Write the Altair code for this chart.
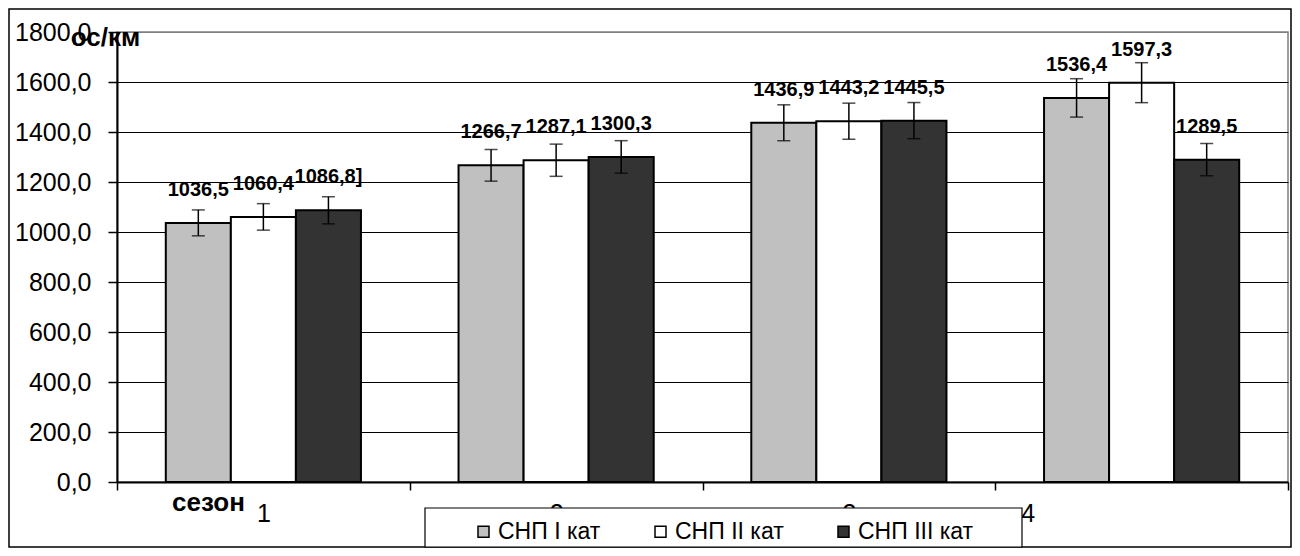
import altair as alt
import pandas as pd

seasons = ["1", "2", "3", "4"]
categories = ["СНП I кат", "СНП II кат", "СНП III кат"]
colors = ["#C0C0C0", "#FFFFFF", "#333333"]

values_I = [1036.5, 1266.7, 1436.9, 1536.4]
values_II = [1060.4, 1287.1, 1443.2, 1597.3]
values_III = [1086.8, 1300.3, 1445.5, 1289.5]

errors_I = [51.8, 63.3, 71.8, 76.8]
errors_II = [53.0, 64.4, 72.2, 79.9]
errors_III = [54.3, 65.0, 72.3, 64.5]

labels_I = ["1036,5", "1266,7", "1436,9", "1536,4"]
labels_II = ["1060,4", "1287,1", "1443,2", "1597,3"]
labels_III = ["1086,8]", "1300,3", "1445,5", "1289,5"]

y_ticks = [0, 200, 400, 600, 800, 1000, 1200, 1400, 1600, 1800]

rows = []
for cat, vals, errs, labs in zip(categories,
                                 [values_I, values_II, values_III],
                                 [errors_I, errors_II, errors_III],
                                 [labels_I, labels_II, labels_III]):
    for s, v, e, l in zip(seasons, vals, errs, labs):
        rows.append({"season": s, "cat": cat, "val": v,
                     "lo": v - e, "hi": v + e, "label": l})
df = pd.DataFrame(rows)

FONT = "Liberation Sans"

x_enc = alt.X(
    "season:N", sort=seasons,
    scale=alt.Scale(paddingInner=0, paddingOuter=0),
    axis=alt.Axis(
        title="сезон", titleX=91, titleY=28, titleAlign="center",
        titleBaseline="alphabetic", titleFont=FONT, titleFontSize=26,
        titleFontWeight="bold", titleColor="black",
        labelAngle=0, labelFont=FONT, labelFontSize=25, labelColor="black",
        labelPadding=11, tickSize=8, tickColor="black", tickWidth=1.5,
        tickBand="extent", domainColor="black", domainWidth=2, grid=False,
        labelOffset={"condition": {"test": "datum.value == '4'", "value": -114}, "value": 0},
    ),
)
xoff_enc = alt.XOffset("cat:N", sort=categories,
                       scale=alt.Scale(paddingInner=0, paddingOuter=0.75))

y_axis = alt.Axis(
    values=y_ticks,
    labelExpr="replace(format(datum.value, '.1f'), '.', ',')",
    labelFont=FONT, labelFontSize=25, labelColor="black", labelPadding=17,
    tickSize=9, tickColor="black", tickWidth=1.5,
    grid=True, gridWidth=1,
    gridColor={"condition": {"test": "datum.value == 1800", "value": "#808080"}, "value": "black"},
    domainColor="black", domainWidth=2,
    title="ос/км", titleAngle=0, titleX=-12, titleY=13, titleAlign="center",
    titleBaseline="alphabetic", titleFont=FONT, titleFontSize=26,
    titleFontWeight="bold", titleColor="black",
)
y_scale = alt.Scale(domain=[0, 1800], nice=False, zero=True)

base = alt.Chart(df)

bars = base.mark_bar(stroke="black", strokeWidth=2).encode(
    x=x_enc,
    xOffset=xoff_enc,
    y=alt.Y("val:Q", scale=y_scale, axis=y_axis, title="ос/км"),
    color=alt.Color(
        "cat:N", sort=categories,
        scale=alt.Scale(domain=categories, range=colors),
        legend=alt.Legend(
            orient="none", legendX=355, legendY=488, direction="horizontal",
            title=None, symbolType="square", symbolSize=121,
            symbolStrokeColor="black", symbolStrokeWidth=1.5,
            labelFont=FONT, labelFontSize=23, labelColor="black",
            columnPadding=48, labelOffset=3, padding=0,
        ),
    ),
)

err = base.mark_rule(color="black", strokeWidth=1.5).encode(
    x=alt.X("season:N", sort=seasons),
    xOffset=alt.XOffset("cat:N", sort=categories),
    y=alt.Y("lo:Q", scale=y_scale, title="ос/км"),
    y2="hi:Q",
)
cap_hi = base.mark_tick(orient="horizontal", size=13, thickness=1.5, color="black").encode(
    x=alt.X("season:N", sort=seasons),
    xOffset=alt.XOffset("cat:N", sort=categories),
    y=alt.Y("hi:Q", scale=y_scale, title="ос/км"),
)
cap_lo = base.mark_tick(orient="horizontal", size=13, thickness=1.5, color="black").encode(
    x=alt.X("season:N", sort=seasons),
    xOffset=alt.XOffset("cat:N", sort=categories),
    y=alt.Y("lo:Q", scale=y_scale, title="ос/км"),
)
text = base.mark_text(dy=-33, font=FONT, fontSize=20, fontWeight="bold",
                      color="black", align="center", baseline="middle").encode(
    x=alt.X("season:N", sort=seasons),
    xOffset=alt.XOffset("cat:N", sort=categories),
    y=alt.Y("val:Q", scale=y_scale, title="ос/км"),
    text="label:N",
)

one = alt.Data(values=[{}])
frame = alt.Chart(one).mark_rect(fill="transparent", stroke="black", strokeWidth=1.5).encode(
    x=alt.value(-108), x2=alt.value(1174), y=alt.value(-23), y2=alt.value(515)
)
legend_box = alt.Chart(one).mark_rect(fill="white", stroke="black", strokeWidth=1.2).encode(
    x=alt.value(308), x2=alt.value(905), y=alt.value(476), y2=alt.value(515)
)

chart = alt.layer(frame, bars, err, cap_hi, cap_lo, text, legend_box).properties(
    width=1171, height=450,
    autosize=alt.AutoSizeParams(type="none"),
    padding={"left": 109, "top": 24, "right": 4, "bottom": 66},
    background="white",
).configure_view(stroke="#808080", strokeWidth=1.5)

chart.save("out.html", embed_options={"renderer": "svg", "actions": False})
